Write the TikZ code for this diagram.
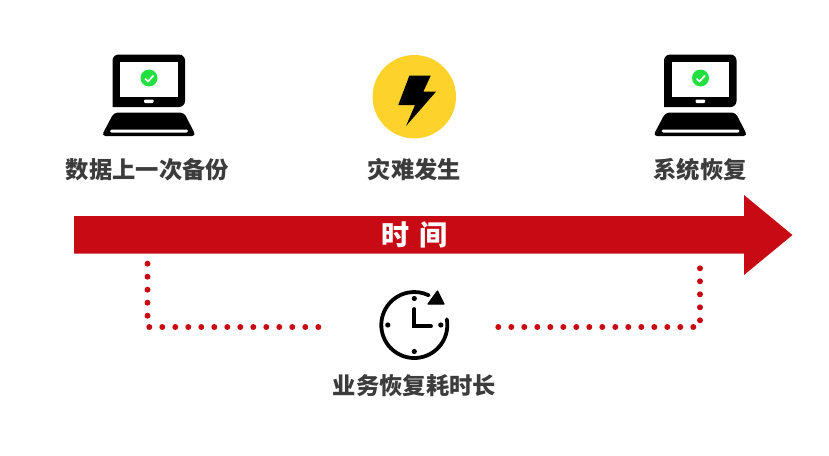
\documentclass[tikz,border=0pt]{standalone}
\usepackage{fontspec}
\setmainfont{Noto Sans CJK SC}
\definecolor{timered}{HTML}{C80A14}
\definecolor{boltyellow}{HTML}{FDD22B}
\definecolor{labelgray}{HTML}{3C3C3C}
\definecolor{okgreen}{HTML}{22E040}
\tikzset{
  steplabel/.style={text=labelgray,font=\fontsize{23.3}{23.3}\selectfont\bfseries,inner sep=0pt},
  dotline/.style={draw=timered,line width=6pt,line cap=round,dash pattern=on 0pt off 13pt},
  laptop/.pic={
    \fill[rounded corners=6pt] (-36.5,12) -- (-36.5,-40.5) -- (36,-40.5) -- (36,12) [sharp corners] -- cycle;
    \fill[white] (-29,-33) rectangle (28.5,1.5);
    \fill[white,rounded corners=1pt] (-5,4.5) rectangle (4.5,8);
    \fill[okgreen] (0,-17) circle[radius=8.5];
    \draw[white,line width=1.7pt] (-4,-16.5) -- (-1,-13.5) -- (4.5,-19.5);
    \fill[rounded corners=4pt] (-35,17.5) -- (35,17.5) -- (47,41) -- (-47.5,41) -- cycle;
    \fill[white,rounded corners=1.5pt] (-39,34.5) rectangle (39,37.5);
  }
}
\begin{document}
\begin{tikzpicture}[x=1pt,y=-1pt]
\useasboundingbox (0,0) rectangle (829,455);

\pic at (149,95) {laptop};
\pic at (700.5,95) {laptop};

\fill[boltyellow] (414.3,96.7) circle[radius=41.7];
\fill (409.3,75.7) -- (430.7,75.7) -- (423.3,91.7) -- (436,91.7) -- (406,126) -- (415,105) -- (398.3,105) -- cycle;

\node[steplabel] (backup) at (147.5,170) {数据上一次备份};
\node[steplabel] (disaster) at (414.5,170) {灾难发生};
\node[steplabel] (recover) at (700,170) {系统恢复};

\fill[timered] (74,216) -- (744,216) -- (744,195) -- (792.5,235) -- (744,275) -- (744,253.5) -- (74,253.5) -- cycle;
\node[text=white,font=\fontsize{28}{28}\selectfont\bfseries,inner sep=0pt] (timeline) at (414.5,235) {时\hspace{0.35em}间};

\coordinate (lefttop) at (147.5,263.7);
\coordinate (leftlow) at (147.5,316);
\coordinate (leftstart) at (149.3,327);
\coordinate (leftend) at (319,327);
\coordinate (righttop) at (700,268.3);
\coordinate (rightlow) at (700,321);
\coordinate (rightstart) at (693.3,327);
\coordinate (rightend) at (497,327);
\draw[dotline] (lefttop) -- (leftlow);
\draw[dotline] (leftstart) -- (leftend);
\draw[dotline] (righttop) -- (rightlow);
\draw[dotline] (rightstart) -- (rightend);

% clock
\coordinate (clock) at (414.3,325);
\draw[line width=3.8pt,line cap=round] (clock) ++(-10:33) arc[start angle=-10,end angle=296,radius=33];
\fill[draw=black,line width=1.2pt,line join=round] (437.5,291) -- (444,304) -- (428,304) -- cycle;
\foreach \a in {0,90,180,270}
  \fill (clock) ++(\a:26.5) circle[radius=2.6];
\draw[line width=3.8pt,line cap=round,line join=miter] (414.3,309) -- (414.3,326.3) -- (431,326.3);

\node[steplabel] (downtime) at (414.5,386) {业务恢复耗时长};
\end{tikzpicture}
\end{document}
